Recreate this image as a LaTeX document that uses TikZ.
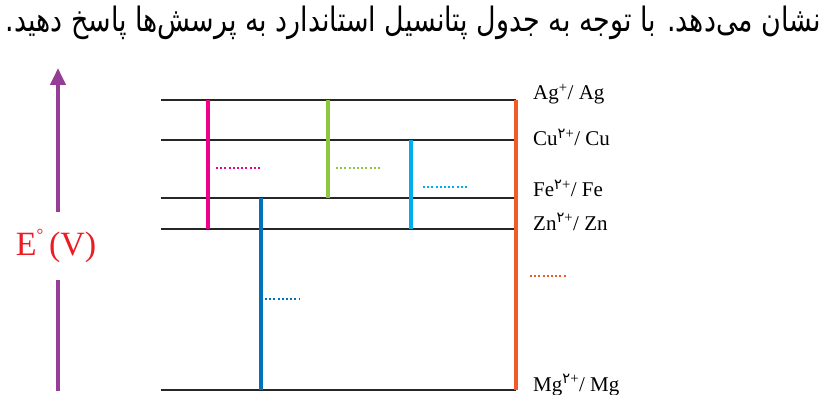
\documentclass[tikz,border=0pt]{standalone}
\usepackage{fontspec}
\usepackage{graphicx}
\setmainfont{Liberation Serif}
\newfontfamily\farsi[Script=Arabic]{DejaVu Sans}
\TeXXeTstate=1
\usetikzlibrary{arrows.meta}
\definecolor{pinkline}{RGB}{236,0,140}
\definecolor{greenline}{RGB}{141,198,63}
\definecolor{cyanline}{RGB}{0,174,239}
\definecolor{blueline}{RGB}{0,114,188}
\definecolor{orangeline}{RGB}{241,90,41}
\definecolor{axispurple}{RGB}{150,62,150}
\definecolor{labelred}{RGB}{237,28,36}
\newcommand{\fad}{{\farsi ۲}}
\tikzset{
  level/.style={line width=2pt, black!85},
  couple/.style={line width=4pt},
  blank/.style={line width=2pt, dash pattern=on 2pt off 2.2pt},
  pairlabel/.style={anchor=base west, inner sep=0pt}
}
\begin{document}
\begin{tikzpicture}[x=1pt, y=-1pt, font=\fontsize{21}{24}\selectfont]
\useasboundingbox (0,0) rectangle (826,395);
% persian heading
\node[anchor=base east, inner sep=0pt] (title) at (821,32)
  {\resizebox{815pt}{!}{\scalebox{1}[1.25]{\farsi\beginR نشان می‌دهد. با توجه به جدول پتانسیل استاندارد به پرسش‌ها پاسخ دهید.\endR}}};
% potential axis
\node[text=labelred, font=\fontsize{34}{36}\selectfont, inner sep=0pt] (ev) at (56,246)
  {E\raisebox{0.42em}{\fontsize{17}{17}\selectfont°}\,(V)};
\coordinate (axtop) at (58,68);
\coordinate (axup) at (58,212);
\coordinate (axdown) at (58,280);
\coordinate (axbot) at (58,391);
\draw[axispurple, line width=4pt, -{Triangle[length=17pt,width=15pt]}] (axup) -- (axtop);
\draw[axispurple, line width=4pt] (axdown) -- (axbot);
% levels
\coordinate (right) at (516,0);
\foreach \n/\y in {ag/100,cu/140,fe/198,zn/229,mg/390}
  \coordinate (\n) at (161,\y);
\foreach \n in {ag,cu,fe,zn,mg}
  \draw[level] (\n) -- (\n -| right);
% cells
\coordinate (agzn) at (208,0);
\coordinate (femg) at (261,0);
\coordinate (agfe) at (328,0);
\coordinate (cuzn) at (411,0);
\draw[couple, pinkline] (agzn |- ag) -- (agzn |- zn);
\draw[couple, blueline] (femg |- fe) -- (femg |- mg);
\draw[couple, greenline] (agfe |- ag) -- (agfe |- fe);
\draw[couple, cyanline] (cuzn |- cu) -- (cuzn |- zn);
\draw[couple, orangeline] (right |- ag) -- (right |- mg);
% blanks
\draw[blank, pinkline] (216,168) -- (262,168);
\draw[blank, greenline] (336,168) -- (382,168);
\draw[blank, cyanline] (423,187) -- (468,187);
\draw[blank, blueline] (265,299) -- (300,299);
\draw[blank, orangeline] (530,276) -- (566,276);
% half reactions
\node[pairlabel] (agl) at (533,100) {Ag\textsuperscript{+}/ Ag};
\node[pairlabel] (cul) at (533,146) {Cu\textsuperscript{\fad+}/ Cu};
\node[pairlabel] (fel) at (533,197) {Fe\textsuperscript{\fad+}/ Fe};
\node[pairlabel] (znl) at (533,230) {Zn\textsuperscript{\fad+}/ Zn};
\node[pairlabel] (mgl) at (533,391) {Mg\textsuperscript{\fad+}/ Mg};
\end{tikzpicture}
\end{document}
